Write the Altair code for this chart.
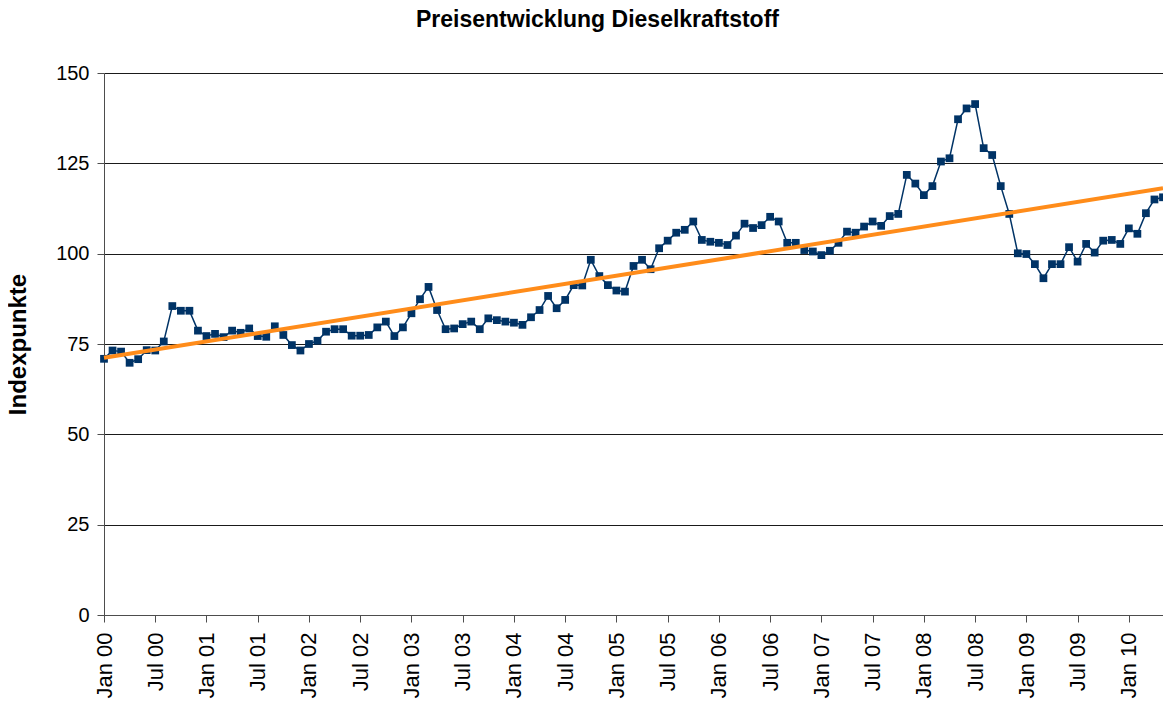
import altair as alt
import pandas as pd

# Monthly index values (Jan 2000 - May 2010)
v2000 = [70.9, 73.2, 72.9, 69.8, 70.8, 73.3, 73.2, 75.7, 85.5, 84.2, 84.2, 78.7]
v2001 = [77.2, 77.8, 76.9, 78.7, 78.1, 79.3, 77.2, 77.0, 79.9, 77.5, 74.7, 73.2]
v2002 = [75.0, 75.9, 78.4, 79.1, 79.1, 77.3, 77.3, 77.5, 79.6, 81.2, 77.2, 79.6]
v2003 = [83.5, 87.4, 90.8, 84.4, 79.1, 79.3, 80.5, 81.2, 79.1, 82.1, 81.6, 81.2]
v2004 = [80.9, 80.3, 82.4, 84.4, 88.3, 84.9, 87.2, 91.3, 91.2, 98.3, 93.8, 91.3]
v2005 = [89.8, 89.5, 96.6, 98.3, 95.7, 101.5, 103.6, 105.8, 106.6, 108.9, 103.8, 103.3]
v2006 = [103.0, 102.4, 105.0, 108.3, 107.1, 107.9, 110.2, 108.9, 103.0, 103.0, 101.0, 100.6]
v2007 = [99.6, 100.8, 103.0, 106.1, 105.8, 107.5, 108.9, 107.7, 110.4, 111.0, 121.8, 119.4]
v2008 = [116.2, 118.7, 125.5, 126.4, 137.2, 140.2, 141.4, 129.2, 127.3, 118.7, 111.0, 100.1]
v2009 = [99.9, 97.1, 93.2, 97.1, 97.1, 101.8, 97.8, 102.7, 100.3, 103.6, 103.8, 102.7]
v2010 = [107.0, 105.5, 111.2, 115.0, 115.6]

values = v2000 + v2001 + v2002 + v2003 + v2004 + v2005 + v2006 + v2007 + v2008 + v2009 + v2010
df = pd.DataFrame({"month": list(range(len(values))), "value": values})

x_ticks = list(range(0, 121, 6))
y_ticks = [0, 25, 50, 75, 100, 125, 150]

FONT = "Liberation Sans"

x_enc = alt.X(
    "month:Q",
    scale=alt.Scale(domain=[0, 124], nice=False, zero=False),
    axis=alt.Axis(
        values=x_ticks,
        labelExpr="(datum.value % 12 == 0 ? 'Jan ' : 'Jul ') + (floor(datum.value / 12) < 10 ? '0' : '') + floor(datum.value / 12)",
        labelAngle=270,
        labelFontSize=22,
        labelColor="black",
        labelPadding=10,
        tickSize=7,
        tickColor="#4d4d4d",
        domainColor="#4d4d4d",
        grid=False,
        title=None,
    ),
)
y_enc = alt.Y(
    "value:Q",
    scale=alt.Scale(domain=[0, 150], nice=False),
    axis=alt.Axis(
        values=y_ticks,
        labelFontSize=20,
        labelColor="black",
        labelPadding=8,
        tickSize=7,
        tickColor="#4d4d4d",
        domainColor="#4d4d4d",
        grid=True,
        gridColor="#1a1a1a",
        gridWidth=1,
        title="Indexpunkte",
        titleFontSize=24,
        titleFontWeight="bold",
        titleColor="black",
        titleAngle=270,
        titleX=-86,
        titleY=271,
        titleAlign="center",
        titleBaseline="middle",
    ),
)

base = alt.Chart(df)
line = base.mark_line(color="#003366", strokeWidth=1.5, clip=False).encode(x=x_enc, y=y_enc)
pts = base.mark_point(
    shape="square", filled=True, size=60, color="#003366", opacity=1, clip=False
).encode(x="month:Q", y="value:Q")
trend = (
    base.transform_regression("month", "value", method="linear")
    .mark_line(color="#FF8C1A", strokeWidth=4, clip=False)
    .encode(x="month:Q", y="value:Q")
)

chart = (
    alt.layer(line, pts, trend)
    .properties(
        width=1059,
        height=542,
        title=alt.TitleParams(
            "Preisentwicklung Dieselkraftstoff",
            fontSize=23,
            fontWeight="bold",
            font=FONT,
            color="black",
            anchor="middle",
            dx=-36,
            baseline="alphabetic",
            offset=13,
        ),
        padding={"left": 96, "top": 65, "right": 0, "bottom": 86},
        autosize=alt.AutoSizeParams(type="none"),
    )
    .configure(font=FONT)
    .configure_view(stroke=None)
)

chart.save("out.html", embed_options={"renderer": "svg", "actions": False})
